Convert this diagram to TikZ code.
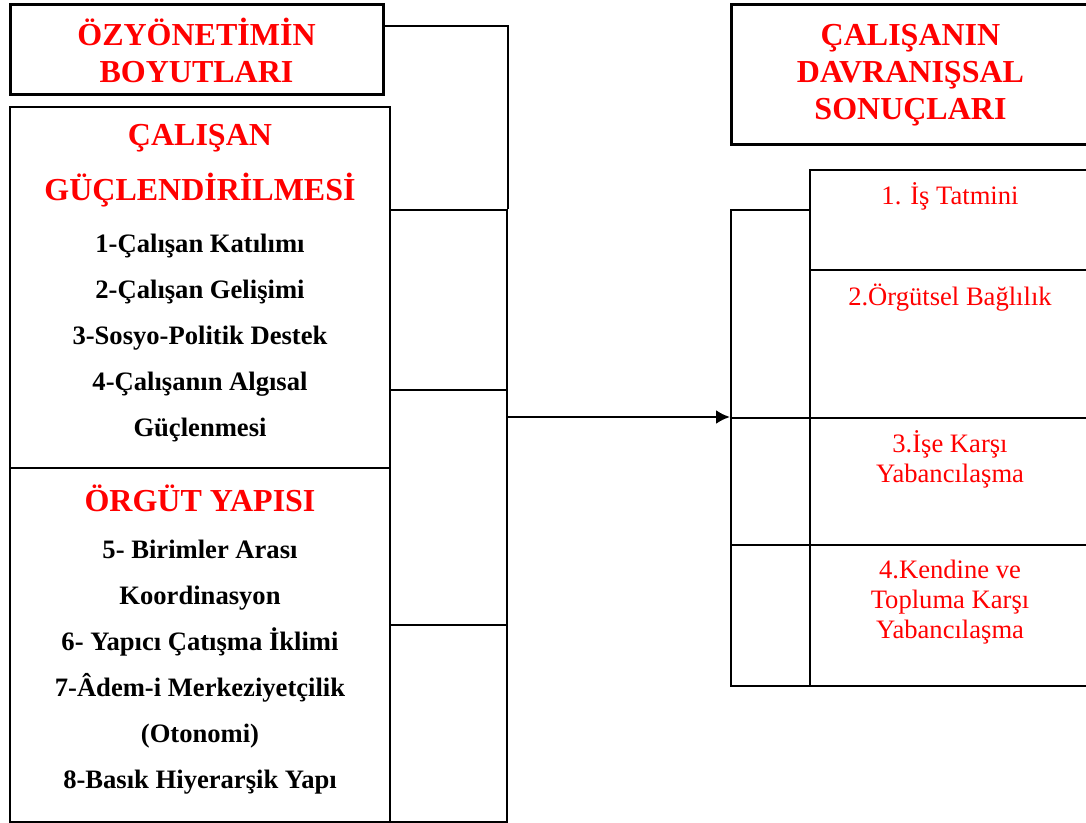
\documentclass[tikz,border=0pt]{standalone}
\usepackage{fontspec}
\setmainfont{Liberation Serif}
\usetikzlibrary{positioning,arrows.meta}

\begin{document}
\begin{tikzpicture}[x=0.5pt,y=-0.5pt,
  kutu/.style={draw, line width=1pt, inner sep=0pt},
  anakutu/.style={kutu, line width=1.5pt},
  baslik/.style={text=red, font=\bfseries\fontsize{16}{18.5}\selectfont, align=center},
  madde/.style={font=\bfseries\fontsize{13.3}{23}\selectfont, align=center},
  sonuc/.style={text=red, font=\fontsize{13.3}{15}\selectfont, align=center}]
\path[use as bounding box] (0,0) rectangle (1086,823);
\clip (0,0) rectangle (1086,823);
\node[anakutu, minimum width=186.5pt, minimum height=45pt, baslik] (ozy) at (196.5,50) {ÖZYÖNETİMİN\\BOYUTLARI};
\node[kutu, minimum width=190pt, minimum height=180.5pt] (guc) at (200,287.5) {};
\node[kutu, minimum width=190pt, minimum height=177pt] (org) at (200,645) {};
\node[baslik, font=\bfseries\fontsize{16}{27.5}\selectfont] (gucbas) at (200,166) {ÇALIŞAN\\GÜÇLENDİRİLMESİ};
\node[madde] (gucmad) at (200,338) {1-Çalışan Katılımı\\2-Çalışan Gelişimi\\3-Sosyo-Politik Destek\\4-Çalışanın Algısal\\Güçlenmesi};
\node[baslik] (orgbas) at (200,498) {ÖRGÜT YAPISI};
\node[madde] (orgmad) at (200,667) {5- Birimler Arası\\Koordinasyon\\6- Yapıcı Çatışma İklimi\\7-Âdem-i Merkeziyetçilik\\(Otonomi)\\8-Basık Hiyerarşik Yapı};
\node[kutu, minimum width=58.5pt, minimum height=90pt] (h1) at (448.5,300) {};
\node[kutu, minimum width=58.5pt, minimum height=117.5pt] (h2) at (448.5,507.5) {};
\node[kutu, minimum width=58.5pt, minimum height=98.5pt] (h3) at (448.5,723.5) {};
\coordinate (k) at (383,26);
\draw[line width=1pt] (k) -| (h1.north east);
\node[anakutu, minimum width=179.5pt, minimum height=70pt, baslik] (davr) at (910.5,75) {ÇALIŞANIN\\DAVRANIŞSAL\\SONUÇLARI};
\node[kutu, minimum width=140pt, minimum height=50pt] (r1) at (950,220) {};
\node[kutu, minimum width=140pt, minimum height=74pt] (r2) at (950,344) {};
\node[kutu, minimum width=140pt, minimum height=63.5pt] (r3) at (950,481.5) {};
\node[kutu, minimum width=140pt, minimum height=70.5pt] (r4) at (950,615.5) {};
\node[kutu, minimum width=39.5pt, minimum height=104pt] (q1) at (770.5,314) {};
\node[kutu, minimum width=39.5pt, minimum height=63.5pt] (q2) at (770.5,481.5) {};
\node[kutu, minimum width=39.5pt, minimum height=70.5pt] (q3) at (770.5,615.5) {};
\node[sonuc] (t1) at (950,196) {1. İş Tatmini};
\node[sonuc] (t2) at (950,298) {2.Örgütsel Bağlılık};
\node[sonuc] (t3) at (950,459) {3.İşe Karşı\\Yabancılaşma};
\node[sonuc] (t4) at (950,602) {4.Kendine ve\\Topluma Karşı\\Yabancılaşma};
\draw[-{Latex[length=7pt,width=7pt]},line width=1.3pt] (h2.east |- q2.north west) -- (q2.north west);
\end{tikzpicture}
\end{document}
